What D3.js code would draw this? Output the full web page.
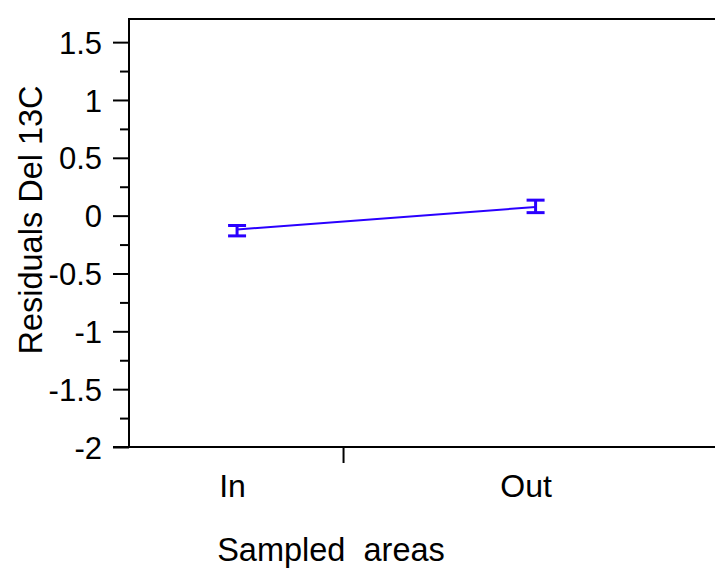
<!DOCTYPE html>
<html>
<head>
<meta charset="utf-8">
<script src="https://cdn.jsdelivr.net/npm/d3@7"></script>
<style>
  html, body { margin: 0; padding: 0; background: #fff; }
  svg { display: block; }
  text { font-family: "Liberation Sans", Arial, sans-serif; fill: #000; }
</style>
</head>
<body>
<svg id="chart" width="715" height="579"></svg>
<script>
// Data
const categories = ["In", "Out"];
const catPositions = [1, 2];
const means = [-0.12, 0.075];
const lower = [-0.175, 0.026];
const upper = [-0.085, 0.134];
const yTicks = [-2, -1.5, -1, -0.5, 0, 0.5, 1, 1.5];
const yMinorTicks = [-1.75, -1.25, -0.75, -0.25, 0.25, 0.75, 1.25];
const xTickValues = [1.355];
const yLabel = "Residuals Del 13C";
const xLabel = "Sampled  areas";

(function () {
const svg = d3.select("#chart");
const mLeft = 129, mTop = 19, mBottom = 447, mRight = 715;
const blue = "#2a00ff";

const y = d3.scaleLinear().domain([-2, 1.7]).range([mBottom, mTop]);
const x = d3.scaleLinear().domain([0.638, 2.601]).range([mLeft, mRight]);

// Frame top line
svg.append("line").attr("x1", mLeft).attr("x2", mRight).attr("y1", mTop).attr("y2", mTop)
  .attr("stroke", "#000").attr("stroke-width", 2);

// Y axis major
const yAxis = d3.axisLeft(y).tickValues(yTicks).tickSize(16).tickPadding(11)
  .tickFormat(d => String(d));
const gy = svg.append("g").attr("transform", `translate(${mLeft},0)`).call(yAxis);
gy.select(".domain").remove();
gy.selectAll(".tick line").attr("stroke", "#000").attr("stroke-width", 2);
gy.selectAll(".tick text").attr("font-size", 31).attr("dy", "0.36em")
  .style("font-family", "'Liberation Sans', Arial, sans-serif");
gy.append("line").attr("x1", 0).attr("x2", 0).attr("y1", mTop - 1).attr("y2", mBottom + 1)
  .attr("stroke", "#000").attr("stroke-width", 2);

// Y axis minor
const yMinor = d3.axisLeft(y).tickValues(yMinorTicks).tickSize(9).tickFormat("");
const gym = svg.append("g").attr("transform", `translate(${mLeft},0)`).call(yMinor);
gym.select(".domain").remove();
gym.selectAll(".tick line").attr("stroke", "#000").attr("stroke-width", 2);

// X axis
const xAxis = d3.axisBottom(x).tickValues(xTickValues).tickSize(16).tickFormat("");
const gx = svg.append("g").attr("transform", `translate(0,${mBottom})`).call(xAxis);
gx.select(".domain").remove();
gx.selectAll(".tick line").attr("stroke", "#000").attr("stroke-width", 2);
gx.append("line").attr("x1", mLeft - 16).attr("x2", mRight).attr("y1", 0).attr("y2", 0)
  .attr("stroke", "#000").attr("stroke-width", 2);

// Category labels
svg.append("g").selectAll("text").data(categories).join("text")
  .attr("x", (d, i) => x(catPositions[i]) - (i === 0 ? 4.5 : 9.5))
  .attr("y", 497)
  .attr("text-anchor", "middle")
  .attr("font-size", 32)
  .text(d => d);

// Axis titles
svg.append("text").attr("x", 331).attr("y", 561).attr("text-anchor", "middle")
  .attr("font-size", 32.5).style("white-space", "pre").text(xLabel);
svg.append("text").attr("transform", `translate(42,220) rotate(-90)`)
  .attr("text-anchor", "middle").attr("font-size", 32.5).text(yLabel);

// Mean line
const pts = catPositions.map((c, i) => [x(c), y(means[i])]);
svg.append("path").attr("d", d3.line()(pts)).attr("fill", "none")
  .attr("stroke", blue).attr("stroke-width", 2);

// Error bars
const eb = svg.append("g").attr("stroke", blue).attr("stroke-width", 3);
catPositions.forEach((c, i) => {
  const cx = x(c);
  eb.append("line").attr("x1", cx).attr("x2", cx).attr("y1", y(lower[i])).attr("y2", y(upper[i]));
  eb.append("line").attr("x1", cx - 9).attr("x2", cx + 9).attr("y1", y(lower[i])).attr("y2", y(lower[i]));
  eb.append("line").attr("x1", cx - 9).attr("x2", cx + 9).attr("y1", y(upper[i])).attr("y2", y(upper[i]));
});
})();
</script>
</body>
</html>
